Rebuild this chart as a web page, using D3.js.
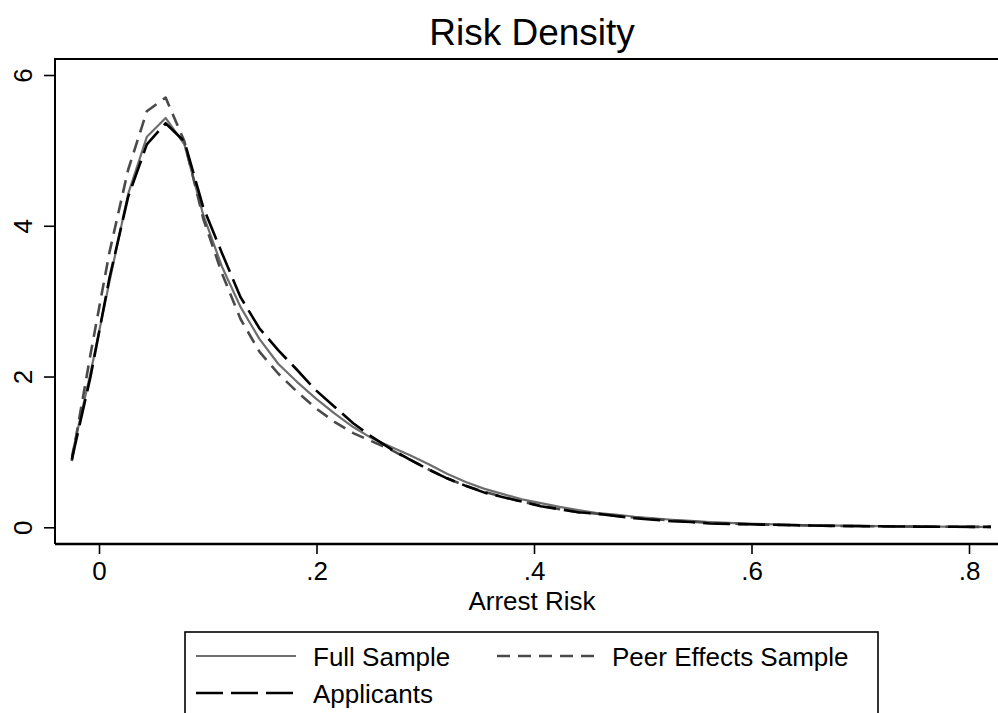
<!DOCTYPE html>
<html>
<head>
<meta charset="utf-8">
<script src="https://cdn.jsdelivr.net/npm/d3@7"></script>
<style>
  body { margin: 0; background: #fff; }
  svg { display: block; font-family: "Liberation Sans", Arial, Helvetica, sans-serif; }
</style>
</head>
<body>
<div id="chart"></div>
<script>
// evaluation grid of the kernel density (50 points, -0.025 .. 0.82)
const gridStart = -0.025;
const gridStep = 0.01725;
const gridX = d3.range(50).map((i) => gridStart + i * gridStep);

const fullSample = [
  0.95, 2.05, 3.25, 4.42, 5.18, 5.43, 5.08, 4.15, 3.46, 2.92,
  2.50, 2.17, 1.93, 1.71, 1.51, 1.33, 1.18, 1.07, 0.96, 0.84,
  0.71, 0.60, 0.51, 0.44, 0.37, 0.32, 0.27, 0.23, 0.19, 0.17,
  0.14, 0.12, 0.10, 0.085, 0.07, 0.06, 0.05, 0.042, 0.036, 0.03,
  0.026, 0.022, 0.019, 0.016, 0.013, 0.011, 0.009, 0.007, 0.006, 0.005
];
const peerSample = [
  0.88, 2.30, 3.64, 4.74, 5.52, 5.70, 5.12, 4.10, 3.37, 2.76,
  2.33, 2.04, 1.80, 1.58, 1.40, 1.25, 1.14, 1.03, 0.90, 0.77,
  0.65, 0.55, 0.47, 0.40, 0.34, 0.29, 0.24, 0.20, 0.18, 0.15,
  0.13, 0.11, 0.09, 0.075, 0.06, 0.05, 0.042, 0.036, 0.03, 0.025,
  0.021, 0.018, 0.015, 0.013, 0.011, 0.009, 0.008, 0.007, 0.006, 0.005
];
const applicants = [
  0.90, 2.00, 3.30, 4.38, 5.08, 5.36, 5.12, 4.25, 3.64, 3.05,
  2.64, 2.35, 2.09, 1.82, 1.60, 1.38, 1.20, 1.04, 0.90, 0.77,
  0.65, 0.55, 0.46, 0.40, 0.34, 0.28, 0.24, 0.20, 0.18, 0.15,
  0.12, 0.10, 0.08, 0.07, 0.05, 0.045, 0.04, 0.035, 0.03, 0.025,
  0.021, 0.018, 0.015, 0.013, 0.011, 0.009, 0.008, 0.007, 0.006, 0.005
];

const xTicks = [0, 0.2, 0.4, 0.6, 0.8];
const xTickLabels = ["0", ".2", ".4", ".6", ".8"];
const yTicks = [0, 2, 4, 6];
const seriesNames = ["Full Sample", "Peer Effects Sample", "Applicants"];

const width = 998;
const height = 713;
const plot = { left: 55, top: 59, right: 1000, bottom: 544 };

const svg = d3
  .select("#chart")
  .append("svg")
  .attr("width", width)
  .attr("height", height);

// scales: 0 -> 99px, .8 -> 969px ; 0 -> 527px, 6 -> 75px
const x = d3.scaleLinear().domain([0, 0.8]).range([99, 969]);
const y = d3.scaleLinear().domain([0, 6]).range([527.3, 75]);

// series styles
const styles = [
  { data: fullSample, stroke: "#6e6e6e", width: 2.2, dash: null },
  { data: peerSample, stroke: "#4a4a4a", width: 2.6, dash: "13,8" },
  { data: applicants, stroke: "#000000", width: 2.6, dash: "27,8" }
];

const line = d3
  .line()
  .x((d) => x(d[0]))
  .y((d) => y(d[1]));

styles.forEach((s) => {
  svg
    .append("path")
    .datum(gridX.map((gx, i) => [gx, s.data[i]]))
    .attr("fill", "none")
    .attr("stroke", s.stroke)
    .attr("stroke-width", s.width)
    .attr("stroke-dasharray", s.dash)
    .attr("stroke-linejoin", "round")
    .attr("d", line);
});

// plot region outline (left + top), x axis line at bottom
svg
  .append("path")
  .attr("d", `M${plot.left},${plot.bottom}V${plot.top}H${plot.right}`)
  .attr("fill", "none")
  .attr("stroke", "#000")
  .attr("stroke-width", 2);

// X axis
const xAxis = svg
  .append("g")
  .attr("transform", `translate(0,${plot.bottom})`)
  .call(
    d3
      .axisBottom(x)
      .tickValues(xTicks)
      .tickFormat((d, i) => xTickLabels[i])
      .tickSize(10)
      .tickPadding(8)
  );
xAxis.select(".domain").attr("d", `M${plot.left},0H${plot.right}`).attr("stroke-width", 2.4);
xAxis.selectAll(".tick line").attr("stroke-width", 1.6);
xAxis.selectAll("text").style("font-size", "26px").attr("fill", "#000");

// Y axis
const yAxis = svg
  .append("g")
  .attr("transform", `translate(${plot.left},0)`)
  .call(d3.axisLeft(y).tickValues(yTicks).tickSize(11).tickFormat(d3.format("d")));
yAxis.select(".domain").remove();
yAxis.selectAll(".tick line").attr("stroke-width", 1.6);
// rotated labels, centred on each tick
yAxis
  .selectAll(".tick text")
  .attr("transform", "translate(-23,0) rotate(-90)")
  .attr("x", 0)
  .attr("y", 0)
  .attr("dy", 0)
  .style("text-anchor", "middle")
  .style("font-size", "26px")
  .attr("fill", "#000");

// title and axis title
svg
  .append("text")
  .attr("x", 532)
  .attr("y", 45)
  .attr("text-anchor", "middle")
  .style("font-size", "37px")
  .text("Risk Density");

svg
  .append("text")
  .attr("x", 532)
  .attr("y", 610)
  .attr("text-anchor", "middle")
  .style("font-size", "26px")
  .text("Arrest Risk");

// Legend
const legend = svg.append("g");
legend
  .append("rect")
  .attr("x", 185)
  .attr("y", 632)
  .attr("width", 693)
  .attr("height", 100)
  .attr("fill", "none")
  .attr("stroke", "#000")
  .attr("stroke-width", 1.6);

const legendPos = [
  { lx: 196, tx: 313, ly: 656 },
  { lx: 497, tx: 612, ly: 656 },
  { lx: 196, tx: 313, ly: 693 }
];

styles.forEach((s, i) => {
  const p = legendPos[i];
  legend
    .append("line")
    .attr("x1", p.lx)
    .attr("x2", p.lx + 100)
    .attr("y1", p.ly)
    .attr("y2", p.ly)
    .attr("stroke", s.stroke)
    .attr("stroke-width", s.width)
    .attr("stroke-dasharray", s.dash);
  legend
    .append("text")
    .attr("x", p.tx)
    .attr("y", p.ly + 10)
    .style("font-size", "26px")
    .text(seriesNames[i]);
});
</script>
</body>
</html>
